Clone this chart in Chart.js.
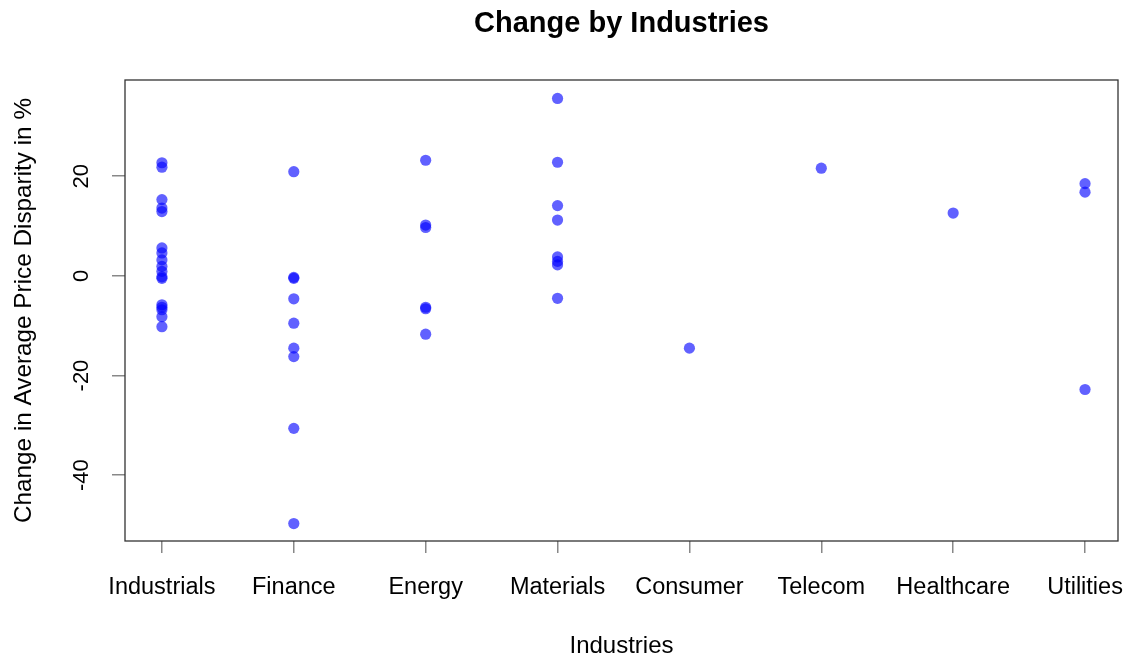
<!DOCTYPE html>
<html>
<head>
<meta charset="utf-8">
<title>Change by Industries</title>
<script src="https://cdn.jsdelivr.net/npm/chart.js@4/dist/chart.umd.min.js"></script>
<style>
  html, body { margin: 0; padding: 0; background: #ffffff; }
  #wrap { width: 1126px; height: 657px; }
</style>
</head>
<body>
<div id="wrap"><canvas id="chart" width="1126" height="657"></canvas></div>
<script>
// Industry categories along the x axis
const categories = ['Industrials', 'Finance', 'Energy', 'Materials', 'Consumer', 'Telecom', 'Healthcare', 'Utilities'];

// Change in average price disparity (%) per company, grouped by industry
const industrialsValues = [22.7, 21.8, 15.3, 13.6, 12.9, 5.6, 4.6, 3.2, 1.9, 0.9, -0.2, -0.5, -5.8, -6.3, -6.8, -8.2, -10.2];
const financeValues     = [20.9, -0.3, -0.5, -4.6, -9.5, -14.5, -16.2, -30.6, -49.7];
const energyValues      = [23.2, 10.2, 9.7, -6.3, -6.6, -11.7];
const materialsValues   = [35.6, 22.8, 14.1, 11.2, 3.8, 2.9, 2.2, -4.5];
const consumerValues    = [-14.5];
const telecomValues     = [21.6];
const healthcareValues  = [12.6];
const utilitiesValues   = [18.5, 16.8, -22.8];

// Tick labels on the value axis
const yTicks = [-40, -20, 0, 20];

const valuesByIndustry = [
  industrialsValues, financeValues, energyValues, materialsValues,
  consumerValues, telecomValues, healthcareValues, utilitiesValues
];

// Each point sits at its industry's position (1..8)
const points = [];
valuesByIndustry.forEach((vals, i) => {
  vals.forEach(v => points.push({ x: i + 1, y: v }));
});

const FONT = '"Liberation Sans", Arial, Helvetica, sans-serif';

// Frame around the plotting region
const boxPlugin = {
  id: 'plotBox',
  afterDraw(chart) {
    const { ctx, chartArea: a } = chart;
    ctx.save();
    ctx.strokeStyle = '#333333';
    ctx.lineWidth = 1.3;
    ctx.strokeRect(a.left, a.top, a.right - a.left, a.bottom - a.top);
    ctx.restore();
  }
};

new Chart(document.getElementById('chart'), {
  type: 'scatter',
  data: {
    datasets: [{
      data: points,
      backgroundColor: 'rgba(0, 0, 255, 0.62)',
      borderWidth: 0,
      pointRadius: 5.6,
      pointHoverRadius: 5.6
    }]
  },
  options: {
    responsive: false,
    animation: false,
    devicePixelRatio: 1,
    layout: { padding: { top: 0, left: 0, right: 8, bottom: 0 } },
    plugins: {
      legend: { display: false },
      tooltip: { enabled: false },
      title: {
        display: true,
        text: 'Change by Industries',
        fullSize: false,
        color: '#000000',
        font: { family: FONT, size: 29, weight: 'bold', lineHeight: 1.2 },
        padding: { top: 7, bottom: 38.2 }
      }
    },
    scales: {
      x: {
        type: 'linear',
        min: 0.72,
        max: 8.25,
        border: { display: false },
        grid: {
          drawOnChartArea: false,
          drawTicks: true,
          tickLength: 12,
          tickColor: '#888888',
          lineWidth: 1.5
        },
        afterBuildTicks(scale) {
          scale.ticks = categories.map((c, i) => ({ value: i + 1 }));
        },
        afterFit(scale) {
          scale.height = 116;
          scale.paddingLeft = 0;
          scale.paddingRight = 0;
        },
        ticks: {
          autoSkip: false,
          maxRotation: 0,
          minRotation: 0,
          padding: 20,
          color: '#000000',
          font: { family: FONT, size: 23.5 },
          callback: (v) => categories[v - 1]
        },
        title: {
          display: true,
          text: 'Industries',
          color: '#000000',
          font: { family: FONT, size: 24, lineHeight: 0.85 },
          padding: { top: 0, bottom: 0 }
        }
      },
      y: {
        type: 'linear',
        min: -53.2,
        max: 39.3,
        border: { display: false },
        grid: {
          drawOnChartArea: false,
          drawTicks: true,
          tickLength: 13,
          tickColor: '#888888',
          lineWidth: 1.5
        },
        afterBuildTicks(scale) {
          scale.ticks = yTicks.map(v => ({ value: v }));
        },
        afterFit(scale) {
          scale.width = 125;
          scale.paddingTop = 0;
          scale.paddingBottom = 0;
        },
        ticks: {
          minRotation: 90,
          maxRotation: 90,
          crossAlign: 'center',
          padding: 14,
          color: '#000000',
          font: { family: FONT, size: 22 }
        },
        title: {
          display: true,
          text: 'Change in Average Price Disparity in %',
          color: '#000000',
          font: { family: FONT, size: 24.3, lineHeight: 1.2 },
          padding: { top: 10, bottom: 0 }
        }
      }
    }
  },
  plugins: [boxPlugin]
});
</script>
</body>
</html>
